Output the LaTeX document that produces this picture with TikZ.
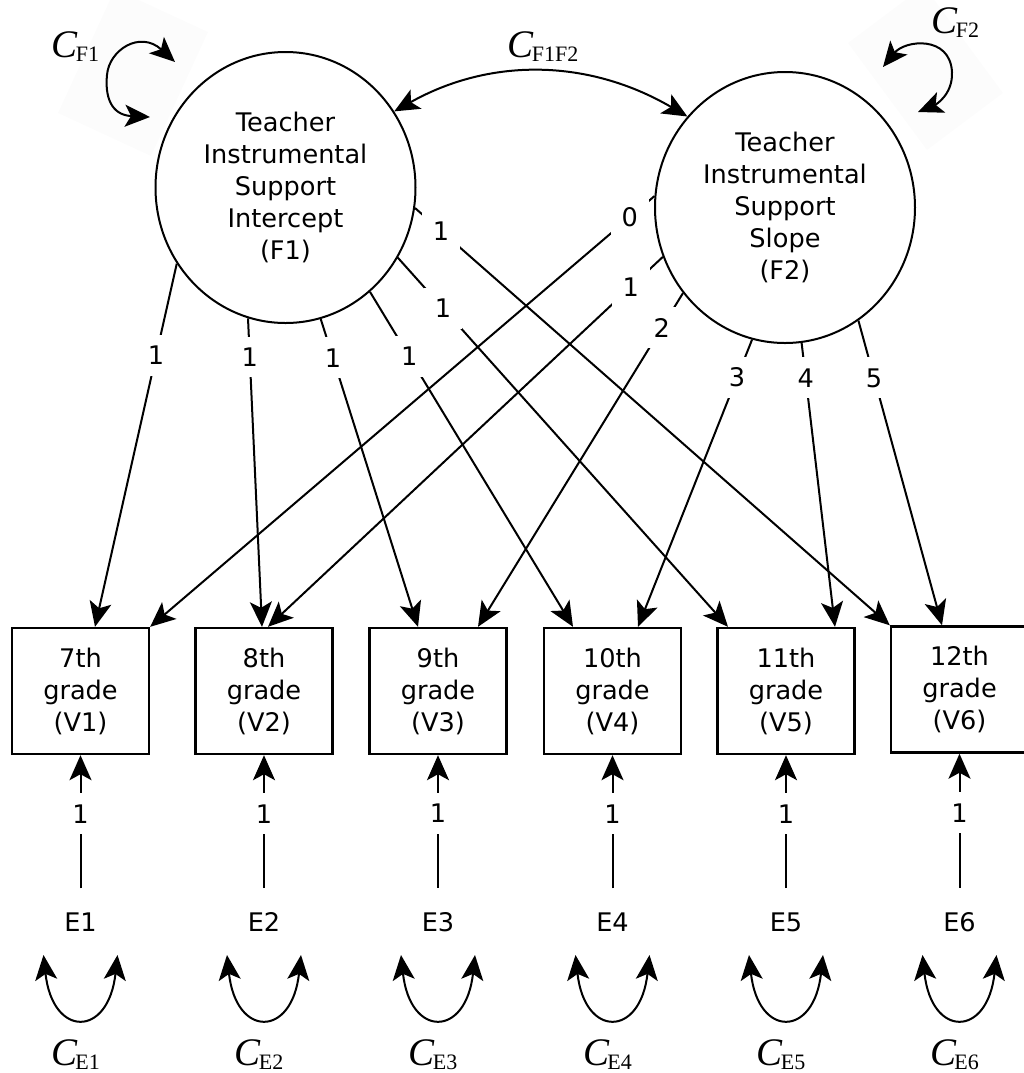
\documentclass[tikz,border=0pt]{standalone}
\usepackage{fontspec}
\setmainfont{DejaVu Sans}
\newfontfamily\tms{Liberation Serif}
\usetikzlibrary{arrows.meta,shapes.geometric,calc}

% variance / covariance parameter name: italic C with roman subscript
\newcommand{\cpar}[1]{{\tms\fontsize{19.5pt}{19.5pt}\selectfont\itshape C}\kern-0.8pt{\tms\fontsize{11pt}{11pt}\selectfont\raisebox{-2pt}{#1}}}

\begin{document}
\begin{tikzpicture}[x=0.5pt,y=-0.5pt,
  >={Stealth[length=12.5pt,width=11pt,inset=3pt]},
  every node/.style={font=\fontsize{12.8pt}{16pt}\selectfont},
  factor/.style={ellipse, draw, line width=1pt, minimum width=130pt,
    minimum height=135.5pt, inner sep=0pt, align=center},
  obs/.style={rectangle, draw, line width=1.2pt, minimum width=68.5pt,
    minimum height=63pt, inner sep=0pt, align=center},
  err/.style={inner xsep=2pt, inner ysep=12pt},
  coef/.style={fill=white, inner sep=5.5pt},
  load/.style={->, line width=1pt},
  cov/.style={<->, line width=1pt},
  cname/.style={inner sep=0pt, anchor=base west},
  haze/.style={fill=black!1.2, draw=none}
]
\useasboundingbox (0,0) rectangle (1024,1073);

% faint panels behind the factor variances
\fill[haze] (58,113) -- (151,156) -- (208,32) -- (115,-11) -- cycle;
\fill[haze] (848,43) -- (924,-14) -- (1003,93) -- (927,150) -- cycle;

% latent growth factors
\node[factor] (F1) at (285.5,187.5) {Teacher\\Instrumental\\Support\\Intercept\\(F1)};
\node[factor] (F2) at (785,207.5) {Teacher\\Instrumental\\Support\\Slope\\(F2)};

% observed measures
\node[obs] (V1) at (80.5,691) {7th\\grade\\(V1)};
\node[obs] (V2) at (264,691) {8th\\grade\\(V2)};
\node[obs] (V3) at (438,691) {9th\\grade\\(V3)};
\node[obs] (V4) at (612.5,691) {10th\\grade\\(V4)};
\node[obs] (V5) at (786,691) {11th\\grade\\(V5)};
\node[obs] (V6) at (959.5,689.5) {12th\\grade\\(V6)};

% residuals
\foreach \i/\x in {1/80.5,2/264,3/438,4/612.5,5/786,6/959.5}{
  \node[err] (E\i) at (\x,922) {E\i};
  \draw[load] (E\i) -- node[coef,pos=0.56]{1} (V\i);
  \coordinate (EL\i) at ($(E\i)+(-37,33)$);
  \coordinate (ER\i) at ($(E\i)+(37,33)$);
  \draw[cov] (EL\i) .. controls ($(E\i)+(-28,116)$) and ($(E\i)+(28,116)$) .. (ER\i);
  \node[cname, anchor=base] (CE\i) at ($(E\i)+(-5,143)$) {\cpar{E\i}};
}

% intercept loadings
\draw[load] (F1.215.3) -- node[coef,pos=0.253]{1} ($(V1.north)+(14.5,0)$);
\draw[load] (F1.254)   -- node[coef,pos=0.126]{1} ($(V2.north)+(-2,0)$);
\draw[load] (F1.285.6) -- node[coef,pos=0.126]{1} ($(V3.north)+(-20,0)$);
\draw[load] (F1.309)   -- node[coef,pos=0.193]{1} ($(V4.north)+(-39.5,0)$);
\draw[load] (F1.328.7) -- node[coef,pos=0.137]{1} ($(V5.north)+(-58,0)$);
\draw[load] (F1.351.4) -- node[coef,pos=0.055]{1} (V6.north west);

% slope loadings
\draw[load] (F2.175.4) -- node[coef,pos=0.049]{0} (V1.north east);
\draw[load] (F2.202.1) -- node[coef,pos=0.081]{1} ($(V2.north)+(4,0)$);
\draw[load] (F2.220)   -- node[coef,pos=0.104]{2} ($(V3.north)+(40,0)$);
\draw[load] (F2.256)   -- node[coef,pos=0.132]{3} ($(V4.north)+(25.5,0)$);
\draw[load] (F2.277.6) -- node[coef,pos=0.123]{4} ($(V5.north)+(49,0)$);
\draw[load] (F2.303.7) -- node[coef,pos=0.188]{5} ($(V6.north)+(-17.5,0)$);

% factor covariance
\draw[cov] (F1.35.8) .. controls (491,57) and (589,59) .. (F2.137.6);
\node[cname] (CF1F2) at (507,57) {\cpar{F1F2}};

% factor variances
\coordinate (VA1) at (150,117);
\coordinate (VM1) at (107,75);
\coordinate (VB1) at (175,62);
\draw[cov] (VA1) .. controls (110,115) and (105,95) .. (VM1)
  .. controls (109,50) and (140,30) .. (VB1);
\node[cname] (CF1) at (51,57) {\cpar{F1}};

\coordinate (VA2) at (883,67);
\coordinate (VM2) at (952,72);
\coordinate (VB2) at (918,112);
\draw[cov] (VA2) .. controls (905,40) and (950,35) .. (VM2)
  .. controls (953,95) and (935,105) .. (VB2);
\node[cname] (CF2) at (931,33) {\cpar{F2}};
\end{tikzpicture}
\end{document}
